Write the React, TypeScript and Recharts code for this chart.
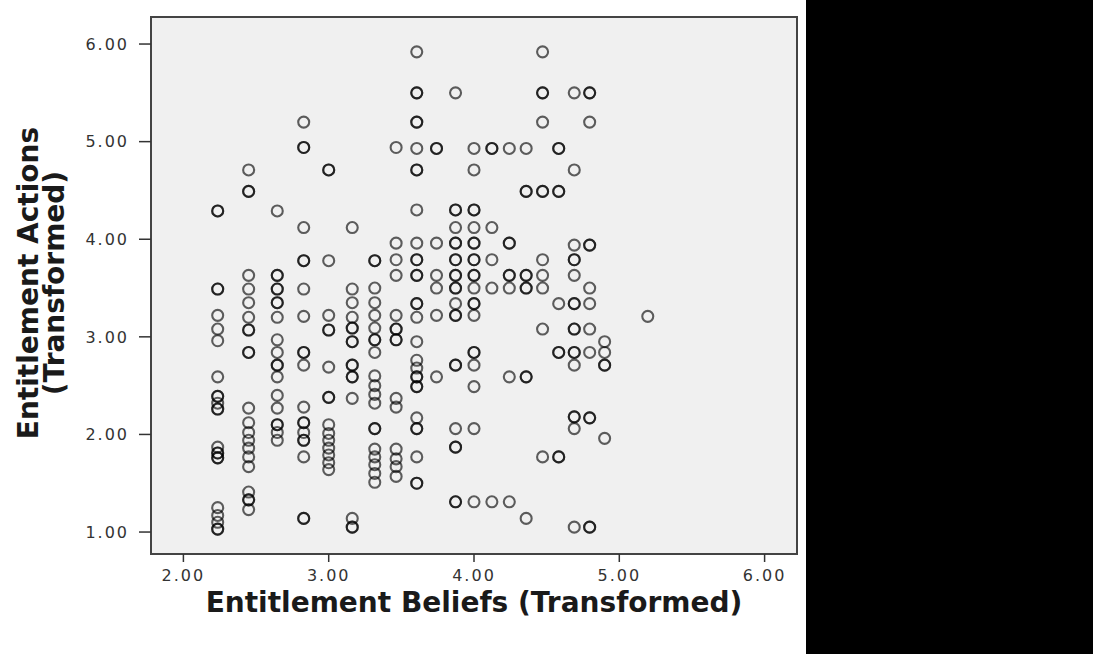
import React from 'react';
import { ScatterChart, Scatter, XAxis, YAxis, CartesianGrid, ReferenceArea } from 'recharts';

// x positions (Entitlement Beliefs, transformed)
const beliefs = [2.236, 2.449, 2.646, 2.828, 3.0, 3.162, 3.317, 3.464, 3.606, 3.742, 3.873, 4.0, 4.123, 4.243, 4.359, 4.472, 4.583, 4.69, 4.796, 4.899, 5.196];

// y values (Entitlement Actions, transformed) for each belief level; repeated values = overlapping cases
const actionsB1 = [4.29, 4.29, 3.49, 3.49, 3.22, 3.08, 2.96, 2.59, 2.39, 2.39, 2.32, 2.26, 2.26, 1.87, 1.81, 1.81, 1.76, 1.76, 1.25, 1.17, 1.10, 1.03, 1.03];
const actionsB2 = [4.71, 4.49, 4.49, 3.63, 3.49, 3.35, 3.20, 3.07, 3.07, 2.84, 2.84, 2.27, 2.12, 2.02, 1.94, 1.86, 1.77, 1.67, 1.41, 1.33, 1.33, 1.23];
const actionsB3 = [4.29, 3.63, 3.63, 3.49, 3.49, 3.35, 3.35, 3.20, 2.97, 2.84, 2.71, 2.71, 2.59, 2.40, 2.27, 2.10, 2.10, 2.02, 1.94];
const actionsB4 = [5.20, 4.94, 4.94, 4.12, 3.78, 3.78, 3.49, 3.21, 2.84, 2.84, 2.71, 2.28, 2.12, 2.12, 2.02, 1.94, 1.94, 1.77, 1.14, 1.14];
const actionsB5 = [4.71, 4.71, 3.78, 3.22, 3.07, 3.07, 2.69, 2.38, 2.38, 2.10, 2.01, 1.94, 1.86, 1.79, 1.71, 1.64];
const actionsB6 = [4.12, 3.49, 3.35, 3.20, 3.09, 3.09, 2.95, 2.95, 2.71, 2.71, 2.59, 2.59, 2.37, 1.14, 1.05, 1.05];
const actionsB7 = [3.78, 3.78, 3.50, 3.35, 3.22, 3.09, 2.97, 2.97, 2.84, 2.60, 2.50, 2.41, 2.32, 2.06, 2.06, 1.85, 1.77, 1.69, 1.60, 1.51];
const actionsB8 = [4.94, 3.96, 3.79, 3.63, 3.22, 3.08, 3.08, 2.97, 2.97, 2.37, 2.28, 1.85, 1.75, 1.67, 1.57];
const actionsB9 = [5.92, 5.50, 5.50, 5.20, 5.20, 4.93, 4.71, 4.71, 4.30, 3.96, 3.79, 3.79, 3.63, 3.63, 3.34, 3.34, 3.20, 2.95, 2.76, 2.68, 2.59, 2.59, 2.49, 2.49, 2.17, 2.06, 2.06, 1.77, 1.50, 1.50];
const actionsB10 = [4.93, 4.93, 3.96, 3.63, 3.50, 3.22, 2.59];
const actionsB11 = [5.50, 4.30, 4.30, 4.12, 3.96, 3.96, 3.79, 3.79, 3.63, 3.63, 3.50, 3.50, 3.34, 3.22, 3.22, 2.71, 2.71, 2.06, 1.87, 1.87, 1.31, 1.31];
const actionsB12 = [4.93, 4.71, 4.30, 4.30, 4.12, 3.96, 3.96, 3.79, 3.79, 3.63, 3.63, 3.50, 3.34, 3.34, 3.22, 2.84, 2.84, 2.71, 2.49, 2.06, 1.31];
const actionsB13 = [4.93, 4.93, 4.12, 3.79, 3.50, 1.31];
const actionsB14 = [4.93, 3.96, 3.96, 3.63, 3.63, 3.50, 2.59, 1.31];
const actionsB15 = [4.93, 4.49, 4.49, 3.63, 3.63, 3.50, 3.50, 2.59, 2.59, 1.14];
const actionsB16 = [5.92, 5.50, 5.50, 5.20, 4.49, 4.49, 3.79, 3.63, 3.50, 3.08, 1.77];
const actionsB17 = [4.93, 4.93, 4.49, 4.49, 3.34, 2.84, 2.84, 1.77, 1.77];
const actionsB18 = [5.50, 4.71, 3.94, 3.79, 3.79, 3.63, 3.34, 3.34, 3.08, 3.08, 2.84, 2.84, 2.71, 2.18, 2.18, 2.06, 1.05];
const actionsB19 = [5.50, 5.50, 5.20, 3.94, 3.94, 3.50, 3.34, 3.08, 2.84, 2.17, 2.17, 1.05, 1.05];
const actionsB20 = [2.95, 2.84, 2.71, 2.71, 1.96];
const actionsB21 = [3.21];

const actionsByBelief = [actionsB1, actionsB2, actionsB3, actionsB4, actionsB5, actionsB6, actionsB7, actionsB8, actionsB9, actionsB10, actionsB11, actionsB12, actionsB13, actionsB14, actionsB15, actionsB16, actionsB17, actionsB18, actionsB19, actionsB20, actionsB21];

const xTicks = [2, 3, 4, 5, 6];
const yTicks = [1, 2, 3, 4, 5, 6];
const xTitle = 'Entitlement Beliefs (Transformed)';
const yTitleLines = ['Entitlement Actions', '(Transformed)'];

const xDomain: [number, number] = [1.777, 6.223];
const yDomain: [number, number] = [0.775, 6.277];

const data = beliefs.flatMap((b, i) => actionsByBelief[i].map((a) => ({ x: b, y: a })));

const fmt = (v: number) => v.toFixed(2);
const FONT = '"DejaVu Sans", Verdana, sans-serif';

const Ring = (props: any) => {
  const { cx, cy } = props;
  if (cx == null || cy == null) return null;
  return <circle cx={cx} cy={cy} r={5.5} fill="none" stroke="#000" strokeOpacity={0.62} strokeWidth={2.1} />;
};

const XTick = (props: any) => {
  const { x, y, payload } = props;
  return (
    <text x={x} y={y} dy="0.71em" textAnchor="middle" fill="#333" fontSize={16} fontFamily={FONT} style={{ letterSpacing: '2px' }}>
      {fmt(payload.value)}
    </text>
  );
};

const YTick = (props: any) => {
  const { x, y, payload } = props;
  return (
    <text x={x} y={y} dy="0.355em" textAnchor="end" fill="#333" fontSize={16} fontFamily={FONT} style={{ letterSpacing: '2px' }}>
      {fmt(payload.value)}
    </text>
  );
};

export default function App() {
  return (
    <div style={{ position: 'fixed', left: 0, top: 0, width: 1093, height: 654, background: '#fff', overflow: 'hidden' }}>
      <ScatterChart width={1093} height={654} margin={{ top: 17, right: 296, bottom: 0, left: 0 }}>
        <CartesianGrid fill="#f0f0f0" horizontal={false} vertical={false} />
        <XAxis
          type="number"
          dataKey="x"
          domain={xDomain}
          ticks={xTicks}
          allowDataOverflow
          height={100}
          axisLine={false}
          tickLine={{ stroke: '#333', strokeWidth: 1.5 }}
          tickSize={8}
          tickMargin={8}
          tick={<XTick />}
          interval={0}
        />
        <YAxis
          type="number"
          dataKey="y"
          domain={yDomain}
          ticks={yTicks}
          allowDataOverflow
          width={151}
          axisLine={false}
          tickLine={{ stroke: '#333', strokeWidth: 1.5 }}
          tickSize={12}
          tickMargin={10}
          tick={<YTick />}
          interval={0}
        />
        <ReferenceArea x1={xDomain[0]} x2={xDomain[1]} y1={yDomain[0]} y2={yDomain[1]} fill="none" fillOpacity={0} stroke="#444" strokeWidth={2} ifOverflow="visible" />
        <Scatter data={data} isAnimationActive={false} shape={Ring} />
      </ScatterChart>
      <div
        style={{
          position: 'absolute', left: 151, width: 646, top: 591, textAlign: 'center',
          fontFamily: FONT, fontWeight: 'bold', fontSize: 28, color: '#1a1a1a', whiteSpace: 'nowrap', lineHeight: '24px',
        }}
      >
        {xTitle}
      </div>
      <div
        style={{
          position: 'absolute', left: 44, top: 283, width: 400, marginLeft: -200, marginTop: -28,
          transform: 'rotate(-90deg)', transformOrigin: '200px 28px', textAlign: 'center',
          fontFamily: FONT, fontWeight: 'bold', fontSize: 28, color: '#1a1a1a', lineHeight: '26px', whiteSpace: 'nowrap',
        }}
      >
        <div>{yTitleLines[0]}</div>
        <div>{yTitleLines[1]}</div>
      </div>
      <div style={{ position: 'absolute', left: 806, top: 0, width: 287, height: 654, background: '#000' }} />
    </div>
  );
}
